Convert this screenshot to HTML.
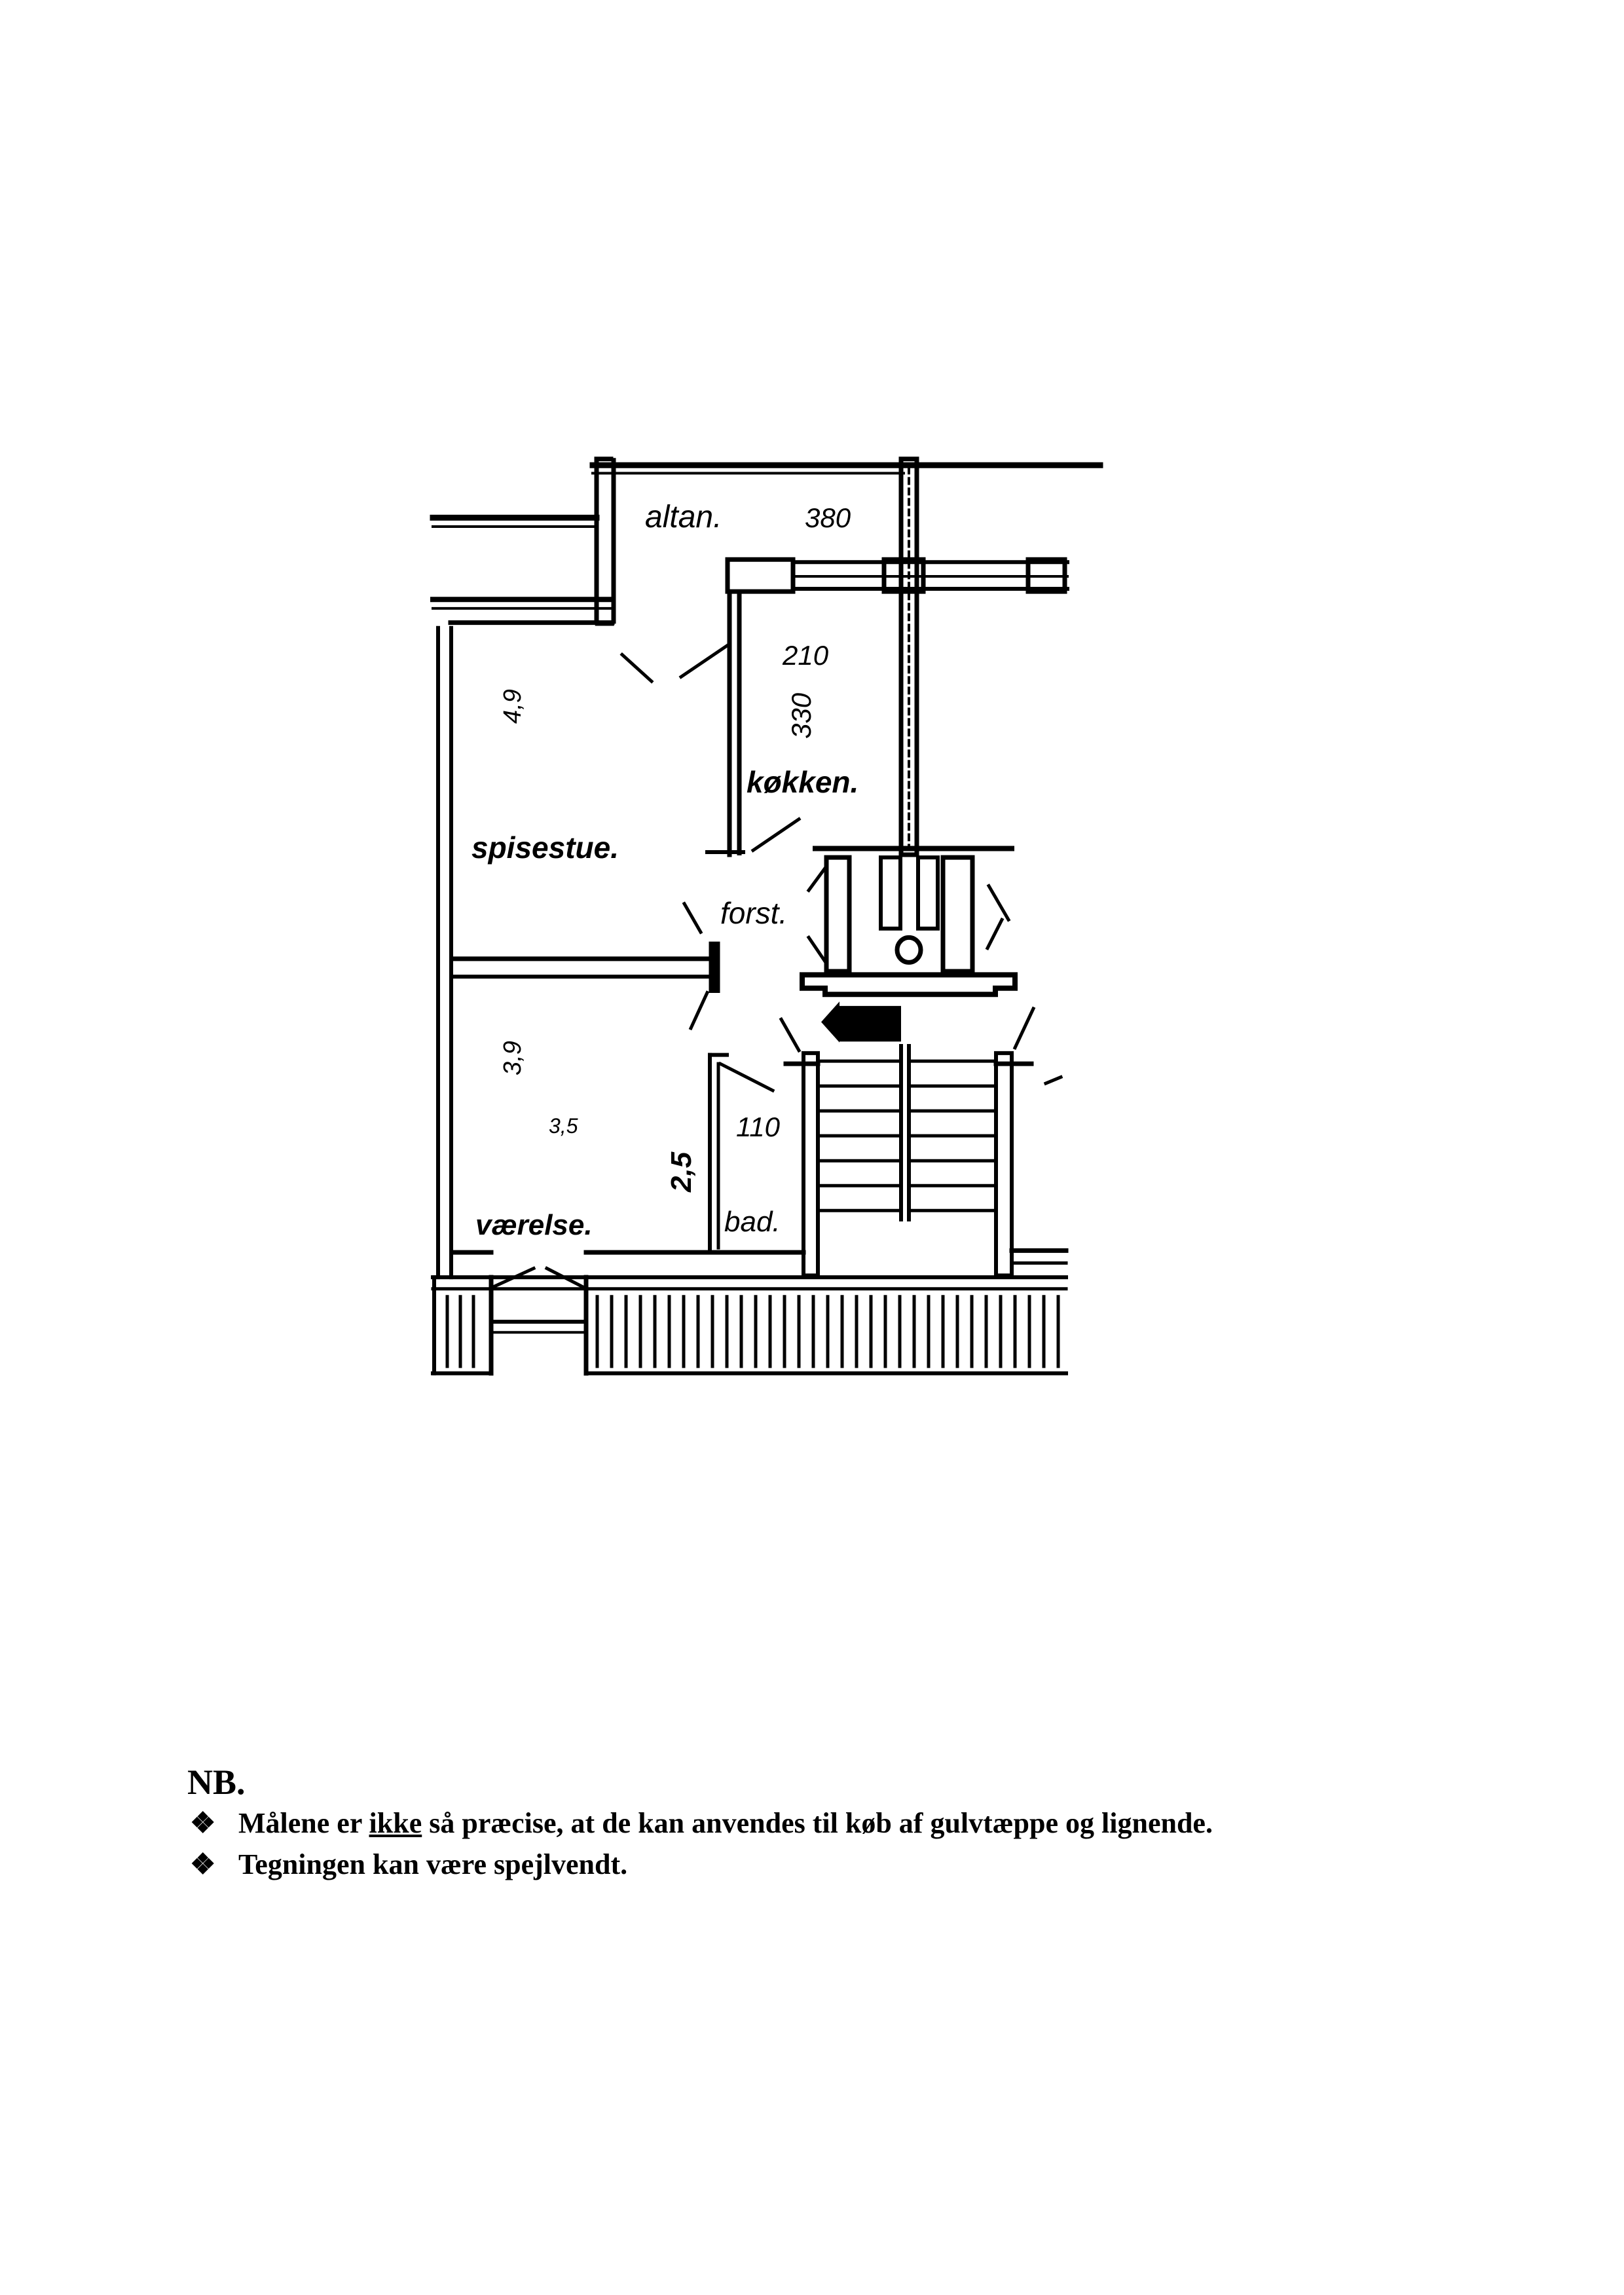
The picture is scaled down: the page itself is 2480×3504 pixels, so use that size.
<!DOCTYPE html>
<html><head><meta charset="utf-8">
<style>
html,body{margin:0;padding:0;background:#fff;}
body{width:2480px;height:3504px;position:relative;overflow:hidden;}
.t{position:absolute;font-family:"Liberation Serif",serif;font-weight:bold;color:#000;white-space:nowrap;}
g.s *{vector-effect:non-scaling-stroke;}
</style></head><body>
<svg width="2480" height="3504" viewBox="0 0 2480 3504" style="position:absolute;left:0;top:0">
<g class="s" transform="translate(0,660) scale(1,1.358) translate(0,-660)">
<g stroke="#000" fill="none" stroke-linecap="square">
<line x1="905" y1="697" x2="1680" y2="697" stroke-width="9"/>
<line x1="905" y1="706" x2="1380" y2="706" stroke-width="4"/>
<line x1="661" y1="756" x2="911" y2="756" stroke-width="9"/>
<line x1="661" y1="766" x2="911" y2="766" stroke-width="4"/>
<rect x="911" y="690" width="26" height="185" stroke-width="7" stroke-dasharray="8 6"/>
<line x1="661" y1="848" x2="935" y2="848" stroke-width="8"/>
<line x1="661" y1="858" x2="935" y2="858" stroke-width="4"/>
<line x1="688" y1="874" x2="935" y2="874" stroke-width="7"/>
<line x1="669" y1="880" x2="669" y2="1610" stroke-width="6" stroke-dasharray="10 5"/>
<line x1="689" y1="880" x2="689" y2="1610" stroke-width="6"/>
<line x1="690" y1="1252" x2="1090" y2="1252" stroke-width="7"/>
<line x1="690" y1="1272" x2="1090" y2="1272" stroke-width="6"/>
<rect x="1083" y="1233" width="16" height="57" fill="#000"/>
<rect x="1111" y="803" width="100" height="36" stroke-width="7"/>
<line x1="1211" y1="806" x2="1630" y2="806" stroke-width="6"/>
<line x1="1211" y1="822" x2="1630" y2="822" stroke-width="4"/>
<line x1="1211" y1="836" x2="1630" y2="836" stroke-width="6"/>
<rect x="1570" y="803" width="56" height="36" stroke-width="7"/>
<rect x="1350" y="803" width="60" height="36" stroke-width="7"/>
<line x1="1114" y1="840" x2="1114" y2="1135" stroke-width="7"/>
<line x1="1129" y1="840" x2="1129" y2="1135" stroke-width="7" stroke-dasharray="8 5"/>
<line x1="1080" y1="1132" x2="1135" y2="1132" stroke-width="6"/>
<rect x="1376" y="690" width="24" height="445" stroke-width="7"/>
<line x1="1388" y1="700" x2="1388" y2="1125" stroke-width="4" stroke-dasharray="8 8"/>
<line x1="1245" y1="1128" x2="1545" y2="1128" stroke-width="8"/>
<rect x="1262" y="1138" width="35" height="128" stroke-width="7"/>
<rect x="1440" y="1138" width="45" height="128" stroke-width="7"/>
<rect x="1345" y="1138" width="30" height="80" stroke-width="6"/>
<rect x="1402" y="1138" width="30" height="80" stroke-width="6"/>
<ellipse cx="1388" cy="1242" rx="18" ry="14" stroke-width="7"/>
<path d="M1225 1270 L1550 1270 L1550 1285 L1520 1285 L1520 1292 L1260 1292 L1260 1285 L1225 1285 Z" stroke-width="8"/>
<line x1="950" y1="910" x2="995" y2="940" stroke-width="5"/>
<line x1="1040" y1="935" x2="1110" y2="900" stroke-width="5"/>
<line x1="1150" y1="1130" x2="1220" y2="1095" stroke-width="5"/>
<line x1="1045" y1="1190" x2="1070" y2="1222" stroke-width="5"/>
<line x1="1055" y1="1330" x2="1080" y2="1290" stroke-width="5"/>
<line x1="1235" y1="1175" x2="1260" y2="1150" stroke-width="5"/>
<line x1="1235" y1="1228" x2="1260" y2="1255" stroke-width="5"/>
<line x1="1510" y1="1170" x2="1540" y2="1208" stroke-width="5"/>
<line x1="1508" y1="1240" x2="1530" y2="1208" stroke-width="5"/>
<line x1="1193" y1="1320" x2="1220" y2="1355" stroke-width="5"/>
<line x1="1550" y1="1352" x2="1578" y2="1308" stroke-width="5"/>
<line x1="1597" y1="1392" x2="1620" y2="1385" stroke-width="5"/>
<line x1="1100" y1="1370" x2="1180" y2="1400" stroke-width="5"/>
<line x1="750" y1="1622" x2="815" y2="1600" stroke-width="5"/>
<line x1="835" y1="1600" x2="893" y2="1622" stroke-width="5"/>
<path d="M1254 1323 L1282 1300 L1282 1305 L1376 1305 L1376 1345 L1282 1345 L1282 1346 Z" fill="#000" stroke="none"/>
<line x1="1084" y1="1360" x2="1084" y2="1580" stroke-width="6"/>
<line x1="1097" y1="1370" x2="1097" y2="1580" stroke-width="5" stroke-dasharray="8 5"/>
<line x1="1084" y1="1360" x2="1110" y2="1360" stroke-width="6"/>
<rect x="1227" y="1358" width="22" height="250" stroke-width="6"/>
<rect x="1521" y="1358" width="24" height="250" stroke-width="6"/>
<line x1="1200" y1="1370" x2="1249" y2="1370" stroke-width="7"/>
<line x1="1521" y1="1370" x2="1575" y2="1370" stroke-width="7"/>
<line x1="1376" y1="1350" x2="1376" y2="1545" stroke-width="6"/>
<line x1="1388" y1="1350" x2="1388" y2="1545" stroke-width="6"/>
<g stroke-width="5">
<line x1="1249" y1="1367" x2="1372" y2="1367"/><line x1="1392" y1="1367" x2="1521" y2="1367"/>
<line x1="1249" y1="1395" x2="1372" y2="1395"/><line x1="1392" y1="1395" x2="1521" y2="1395"/>
<line x1="1249" y1="1423" x2="1372" y2="1423"/><line x1="1392" y1="1423" x2="1521" y2="1423"/>
<line x1="1249" y1="1451" x2="1372" y2="1451"/><line x1="1392" y1="1451" x2="1521" y2="1451"/>
<line x1="1249" y1="1479" x2="1372" y2="1479"/><line x1="1392" y1="1479" x2="1521" y2="1479"/>
<line x1="1249" y1="1507" x2="1372" y2="1507"/><line x1="1392" y1="1507" x2="1521" y2="1507"/>
<line x1="1249" y1="1535" x2="1372" y2="1535"/><line x1="1392" y1="1535" x2="1521" y2="1535"/>
</g>
<line x1="690" y1="1582" x2="750" y2="1582" stroke-width="7"/>
<line x1="895" y1="1582" x2="1227" y2="1582" stroke-width="7"/>
<line x1="1545" y1="1580" x2="1628" y2="1580" stroke-width="7"/>
<line x1="1545" y1="1594" x2="1628" y2="1594" stroke-width="5"/>
<line x1="661" y1="1610" x2="1628" y2="1610" stroke-width="6"/>
<line x1="661" y1="1623" x2="1628" y2="1623" stroke-width="5"/>
<line x1="661" y1="1718" x2="750" y2="1718" stroke-width="6"/>
<line x1="895" y1="1718" x2="1628" y2="1718" stroke-width="6"/>
<line x1="750" y1="1660" x2="895" y2="1660" stroke-width="6"/>
<line x1="750" y1="1672" x2="895" y2="1672" stroke-width="4"/>
<line x1="750" y1="1610" x2="750" y2="1718" stroke-width="7"/>
<line x1="895" y1="1610" x2="895" y2="1718" stroke-width="7"/>
<line x1="663" y1="1610" x2="663" y2="1718" stroke-width="6"/>
</g>
<g stroke="#000" stroke-width="5">
<line x1="683" y1="1630" x2="683" y2="1712"/><line x1="703" y1="1630" x2="703" y2="1712"/><line x1="723" y1="1630" x2="723" y2="1712"/>
</g>
<g stroke="#000" stroke-width="5" id="bars"></g>
</g>
<g fill="#000" font-family="Liberation Sans, sans-serif" font-style="italic">
<text x="985" y="805" font-size="48">altan.</text>
<text x="1229" y="805" font-size="42">380</text>
<text x="1195" y="1015" font-size="42">210</text>
<text transform="translate(1238,1128) rotate(-90)" font-size="42">330</text>
<text x="1140" y="1210" font-size="46" font-weight="bold">køkken.</text>
<text x="720" y="1310" font-size="46" font-weight="bold">spisestue.</text>
<text transform="translate(795,1105) rotate(-90)" font-size="38">4,9</text>
<text x="1100" y="1410" font-size="46">forst.</text>
<text transform="translate(795,1642) rotate(-90)" font-size="38">3,9</text>
<text x="838" y="1730" font-size="32">3,5</text>
<text x="1124" y="1735" font-size="42">110</text>
<text transform="translate(1055,1820) rotate(-90)" font-size="44" font-weight="bold">2,5</text>
<text x="1106" y="1880" font-size="44">bad.</text>
<text x="726" y="1885" font-size="44" font-weight="bold">værelse.</text>
</g>
</svg>
<script>
var g=document.getElementById('bars'),s='';
for(var x=912;x<1620;x+=22){s+='<line x1="'+x+'" y1="1630" x2="'+x+'" y2="1712"/>';}
g.innerHTML=s;
</script>
<div class="t" style="left:286px;top:2690px;font-size:54px;">NB.</div>
<div class="t" style="left:290px;top:2758px;font-size:44px;">❖</div>
<div class="t" style="left:364px;top:2758px;font-size:44px;">Målene er <u>ikke</u> så præcise, at de kan anvendes til køb af gulvtæppe og lignende.</div>
<div class="t" style="left:290px;top:2821px;font-size:44px;">❖</div>
<div class="t" style="left:364px;top:2821px;font-size:44px;">Tegningen kan være spejlvendt.</div>
</body></html>
